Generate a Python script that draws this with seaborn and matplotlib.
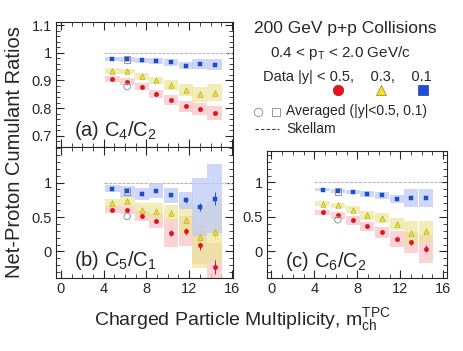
import numpy as np
import pandas as pd
import seaborn as sns
import matplotlib
matplotlib.use('Agg')
from matplotlib import pyplot as plt
from matplotlib.lines import Line2D
from matplotlib.ticker import FixedLocator, MultipleLocator

# multiplicity bins (x)
mult = [4.8, 6.2, 7.6, 8.9, 10.3, 11.7, 13.0, 14.4]
rap_cuts = ['0.5', '0.3', '0.1']

# (a) C4/C2
c42_y05 = [0.905, 0.896, 0.878, 0.851, 0.829, 0.807, 0.796, 0.783]
c42_y03 = [0.935, 0.933, 0.915, 0.900, 0.884, 0.866, 0.850, 0.856]
c42_y01 = [0.978, 0.976, 0.973, 0.970, 0.966, 0.954, 0.961, 0.957]
c42_sys05 = [0.012, 0.013, 0.014, 0.016, 0.018, 0.020, 0.022, 0.025]
c42_sys03 = [0.010, 0.010, 0.012, 0.014, 0.017, 0.022, 0.028, 0.030]
c42_sys01 = [0.007, 0.008, 0.009, 0.010, 0.012, 0.014, 0.018, 0.020]
c42_stat = [0.003] * 8
c42_avg = [0.878, 0.976]   # open circle (|y|<0.5), open square (|y|<0.1)

# (b) C5/C1
c51_y05 = [0.609, 0.599, 0.512, 0.440, 0.271, 0.295, 0.101, -0.222]
c51_y03 = [0.705, 0.730, 0.609, 0.585, 0.560, 0.464, 0.208, 0.285]
c51_y01 = [0.913, 0.874, 0.836, 0.884, 0.816, 0.744, 0.643, 0.768]
c51_sys05 = [0.05, 0.06, 0.07, 0.10, 0.20, 0.22, 0.28, 0.35]
c51_sys03 = [0.06, 0.07, 0.10, 0.12, 0.12, 0.22, 0.45, 0.45]
c51_sys01 = [0.055, 0.08, 0.09, 0.11, 0.11, 0.12, 0.42, 0.50]
c51_stat05 = [0.02, 0.02, 0.03, 0.03, 0.04, 0.05, 0.08, 0.10]
c51_stat03 = [0.02, 0.02, 0.02, 0.03, 0.03, 0.05, 0.10, 0.10]
c51_stat01 = [0.01, 0.01, 0.02, 0.02, 0.03, 0.04, 0.06, 0.09]
c51_avg = [0.51, 0.874]

# (c) C6/C2
c62_y05 = [0.565, 0.522, 0.449, 0.362, 0.275, 0.179, 0.130, 0.039]
c62_y03 = [0.690, 0.667, 0.604, 0.522, 0.483, 0.396, 0.266, 0.290]
c62_y01 = [0.894, 0.870, 0.860, 0.836, 0.812, 0.758, 0.778, 0.773]
c62_sys05 = [0.04, 0.05, 0.06, 0.07, 0.08, 0.12, 0.15, 0.20]
c62_sys03 = [0.035, 0.04, 0.05, 0.06, 0.07, 0.09, 0.17, 0.15]
c62_sys01 = [0.025, 0.03, 0.035, 0.045, 0.05, 0.06, 0.13, 0.13]
c62_stat05 = [0.01, 0.01, 0.01, 0.015, 0.015, 0.02, 0.03, 0.05]
c62_stat03 = [0.01] * 8
c62_stat01 = [0.01] * 8
c62_avg = [0.459, 0.870]

avg_x = 6.2
skellam = 1.0

sns.set_style('ticks')
plt.rcParams['font.family'] = ['Liberation Sans', 'DejaVu Sans']
plt.rcParams['mathtext.fontset'] = 'custom'
plt.rcParams['mathtext.rm'] = 'Liberation Sans'
plt.rcParams['mathtext.it'] = 'Liberation Sans'

colors = {'0.5': '#e5141c', '0.3': '#f2e21e', '0.1': '#1d4fd6'}
edges = {'0.5': '#c01015', '0.3': '#8a8420', '0.1': '#1a3fae'}
band_colors = {'0.5': '#fbc9cd', '0.3': '#ebe48f', '0.1': '#bccaf7'}
band_alpha = {'0.5': 0.8, '0.3': 0.65, '0.1': 0.75}
markers = {'0.5': 'o', '0.3': '^', '0.1': 's'}
sizes = {'0.5': 10, '0.3': 15, '0.1': 10}

fig = plt.figure(figsize=(4.63, 3.51), dpi=100)
ax_a = fig.add_axes([56 / 463, 1 - 147 / 351, 177 / 463, 125 / 351])
ax_b = fig.add_axes([56 / 463, 1 - 278 / 351, 177 / 463, 131 / 351])
ax_c = fig.add_axes([267 / 463, 1 - 278 / 351, 180 / 463, 127 / 351])

panels = [
    (ax_a, [c42_y05, c42_y03, c42_y01], [c42_sys05, c42_sys03, c42_sys01],
     [c42_stat, c42_stat, c42_stat], c42_avg, (0.66, 1.111), '(a) C$_4$/C$_2$'),
    (ax_b, [c51_y05, c51_y03, c51_y01], [c51_sys05, c51_sys03, c51_sys01],
     [c51_stat05, c51_stat03, c51_stat01], c51_avg, (-0.385, 1.517), '(b) C$_5$/C$_1$'),
    (ax_c, [c62_y05, c62_y03, c62_y01], [c62_sys05, c62_sys03, c62_sys01],
     [c62_stat05, c62_stat03, c62_stat01], c62_avg, (-0.385, 1.455), '(c) C$_6$/C$_2$'),
]

for ax, vals, syss, stats, avg, ylim, label in panels:
    ax.plot([4, 16], [skellam, skellam], color='#b8b8b8', lw=0.8, ls=(0, (3, 1)), zorder=1)
    for rap, v, s in zip(rap_cuts, vals, syss):
        v = np.array(v)
        s = np.array(s)
        ax.bar(mult, 2 * s, bottom=v - s, width=1.38, color=band_colors[rap],
               alpha=band_alpha[rap], linewidth=0, zorder=2)
    for rap, v, st in zip(rap_cuts, vals, stats):
        ax.errorbar(mult, v, yerr=st, fmt='none', ecolor=colors[rap], elinewidth=0.7, zorder=3)
        df = pd.DataFrame({'m': mult, 'r': v})
        sns.scatterplot(data=df, x='m', y='r', ax=ax, marker=markers[rap], color=colors[rap],
                        edgecolor=edges[rap], linewidth=0.3, s=sizes[rap], zorder=4, legend=False)
    ax.scatter([avg_x], [avg[0]], marker='o', s=22, facecolor='none', edgecolor='#959595', lw=0.7, zorder=5)
    ax.scatter([avg_x], [avg[1]], marker='s', s=22, facecolor='none', edgecolor='#959595', lw=0.7, zorder=5)

    ax.set_xlim(-0.45, 16.1)
    ax.set_ylim(*ylim)
    ax.set_xlabel('')
    ax.set_ylabel('')
    ax.xaxis.set_major_locator(FixedLocator([0, 4, 8, 12, 16]))
    ax.xaxis.set_minor_locator(MultipleLocator(1))
    ax.tick_params(which='both', direction='in', top=True, right=True, labelsize=10.5, pad=3)
    ax.tick_params(which='major', length=6, width=0.8)
    ax.tick_params(which='minor', length=3, width=0.6)
    for sp in ax.spines.values():
        sp.set_linewidth(0.8)
    ax.text(0.1, 0.13, label, transform=ax.transAxes, fontsize=14.5, va='center', ha='left')

ax_c.set_xlim(-0.4, 16.35)

ax_a.yaxis.set_major_locator(FixedLocator([0.7, 0.8, 0.9, 1.0, 1.1]))
ax_a.set_yticklabels(['0.7', '0.8', '0.9', '1', '1.1'])
ax_a.yaxis.set_minor_locator(MultipleLocator(0.02))
ax_a.tick_params(labelbottom=False)
for ax in (ax_b, ax_c):
    ax.yaxis.set_major_locator(FixedLocator([0, 0.5, 1.0]))
    ax.set_yticklabels(['0', '0.5', '1'])
    ax.yaxis.set_minor_locator(MultipleLocator(0.1))

fig.text(15 / 463, 1 - 152 / 351, 'Net-Proton Cumulant Ratios', rotation=90,
         ha='center', va='center', fontsize=14.5)
fig.text(242 / 463, 1 - 320 / 351, 'Charged Particle Multiplicity, m$_{\\mathrm{ch}}^{\\mathrm{TPC}}$',
         ha='center', va='center', fontsize=14)

# legend / annotation block
fig.text(345 / 463, 1 - 29 / 351, '200 GeV p+p Collisions', ha='center', va='center', fontsize=12.5)
fig.text(340 / 463, 1 - 53 / 351, '0.4 < p$_\\mathrm{T}$ < 2.0 GeV/c', ha='center', va='center', fontsize=11)
fig.text(263 / 463, 1 - 77 / 351, 'Data |y| < 0.5,    0.3,    0.1', ha='left', va='center', fontsize=10.5)
for rap, xp in zip(rap_cuts, [338, 381, 423]):
    fig.add_artist(Line2D([xp / 463], [1 - 90 / 351], transform=fig.transFigure, marker=markers[rap],
                          markersize=7.5, color=colors[rap], markeredgecolor=edges[rap], markeredgewidth=0.5,
                          linestyle='none'))
fig.add_artist(Line2D([258 / 463], [1 - 112 / 351], transform=fig.transFigure, marker='o', markersize=6,
                      markerfacecolor='none', markeredgecolor='#959595', markeredgewidth=0.7, linestyle='none'))
fig.add_artist(Line2D([276 / 463], [1 - 112 / 351], transform=fig.transFigure, marker='s', markersize=6,
                      markerfacecolor='none', markeredgecolor='#959595', markeredgewidth=0.7, linestyle='none'))
fig.text(286 / 463, 1 - 111 / 351, 'Averaged (|y|<0.5, 0.1)', ha='left', va='center', fontsize=10)
fig.add_artist(Line2D([255 / 463, 279 / 463], [1 - 129 / 351] * 2, transform=fig.transFigure,
                      color='#333333', lw=0.8, ls=(0, (3, 2))))
fig.text(286 / 463, 1 - 129 / 351, 'Skellam', ha='left', va='center', fontsize=10)

fig.savefig('out.png', dpi=100)
